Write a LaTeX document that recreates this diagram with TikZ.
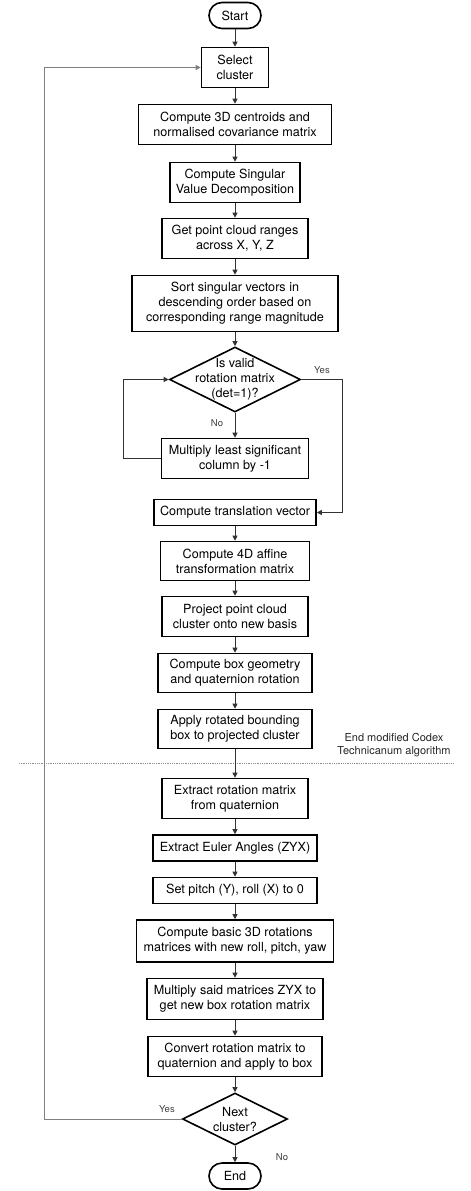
\documentclass[tikz,border=0pt]{standalone}
\usepackage{fontspec}
\setmainfont{TeX Gyre Heros}
\usetikzlibrary{arrows.meta,shapes.geometric}
\begin{document}
\begin{tikzpicture}[x=1pt,y=-1pt,
  txt/.style={font=\fontsize{12.6}{15}\selectfont, align=center, inner sep=0pt},
  proc/.style={txt, draw=black, line width=1.6pt, fill=white},
  term/.style={proc, rounded corners=13pt},
  dec/.style={draw=black, line width=1.6pt, diamond, inner sep=0pt},
  conn/.style={draw=black!80, line width=0.8pt, -{Triangle[length=5pt,width=5pt]}},
  lab/.style={font=\fontsize{9.5}{11}\selectfont, text=black!75, inner sep=0pt},
]
\useasboundingbox (0,0) rectangle (471,1191);

\node[term, minimum width=52pt, minimum height=26pt] (start) at (235,15.5) {Start};
\node[proc, minimum width=67pt, minimum height=40pt] (select) at (235,67.5) {Select\\cluster};
\node[proc, minimum width=193pt, minimum height=40pt] (cent) at (235,124.5) {Compute 3D centroids and\\normalised covariance matrix};
\node[proc, minimum width=130pt, minimum height=40pt] (svd) at (235,182.5) {Compute Singular\\Value Decomposition};
\node[proc, minimum width=146pt, minimum height=40pt] (rng) at (235,238.5) {Get point cloud ranges\\across X, Y, Z};
\node[proc, minimum width=206pt, minimum height=56pt] (sort) at (235,303.5) {Sort singular vectors in\\descending order based on\\corresponding range magnitude};
\node[dec, minimum width=131pt, minimum height=65pt] (d1) at (235,379.5) {};
\node[txt] (d1t) at (d1.center) {Is valid\\rotation matrix\\(det=1)?};
\node[proc, minimum width=147pt, minimum height=40pt] (mult) at (235,458.5) {Multiply least significant\\column by -1};
\node[proc, minimum width=162pt, minimum height=26pt] (trans) at (235,512.5) {Compute translation vector};
\node[proc, minimum width=149pt, minimum height=39pt] (aff) at (235,561) {Compute 4D affine\\transformation matrix};
\node[proc, minimum width=146pt, minimum height=40pt] (proj) at (235,616.5) {Project point cloud\\cluster onto new basis};
\node[proc, minimum width=154pt, minimum height=39pt] (geom) at (235,673) {Compute box geometry\\and quaternion rotation};
\node[proc, minimum width=154pt, minimum height=39pt] (apply) at (235,729) {Apply rotated bounding\\box to projected cluster};
\node[proc, minimum width=146pt, minimum height=40pt] (xrot) at (235,798.5) {Extract rotation matrix\\from quaternion};
\node[proc, minimum width=164pt, minimum height=26pt] (euler) at (235,848) {Extract Euler Angles (ZYX)};
\node[proc, minimum width=164pt, minimum height=26pt] (pitch) at (235,890.5) {Set pitch (Y), roll (X) to 0};
\node[proc, minimum width=197pt, minimum height=42pt] (basic) at (235,941) {Compute basic 3D rotations\\matrices with new roll, pitch, yaw};
\node[proc, minimum width=176pt, minimum height=41pt] (mzyx) at (235,999) {Multiply said matrices ZYX to\\get new box rotation matrix};
\node[proc, minimum width=174pt, minimum height=40pt] (conv) at (235,1056.5) {Convert rotation matrix to\\quaternion and apply to box};
\node[dec, minimum width=105pt, minimum height=52pt] (d2) at (235,1119) {};
\node[txt] (d2t) at (d2.center) {Next\\cluster?};
\node[term, minimum width=52pt, minimum height=26pt] (end) at (235,1176) {End};

\node[font=\fontsize{11}{13}\selectfont, align=center, text=black!85, inner sep=0pt] (note) at (394,745.5) {End modified Codex\\Technicanum algorithm};
\coordinate (dl) at (19,763);
\coordinate (dr) at (453,763);
\draw[black!45, line width=0.6pt, dash pattern=on 0.6pt off 1.2pt] (dl) -- (dr);

\draw[conn] (start) -- (select);
\draw[conn] (select) -- (cent);
\draw[conn] (cent) -- (svd);
\draw[conn] (svd) -- (rng);
\draw[conn] (rng) -- (sort);
\draw[conn] (sort) -- (d1);
\draw[conn] (d1) -- (mult);
\draw[conn] (mult.west) -- ++(-37,0) |- (d1.west);
\draw[conn] (d1.east) -- ++(41,0) |- (trans.east);
\draw[conn] (trans) -- (aff);
\draw[conn] (aff) -- (proj);
\draw[conn] (proj) -- (geom);
\draw[conn] (geom) -- (apply);
\draw[conn] (apply) -- (xrot);
\draw[conn] (xrot) -- (euler);
\draw[conn] (euler) -- (pitch);
\draw[conn] (pitch) -- (basic);
\draw[conn] (basic) -- (mzyx);
\draw[conn] (mzyx) -- (conv);
\draw[conn] (conv) -- (d2);
\draw[conn] (d2) -- (end);
\draw[conn, draw=black!50] (d2.west) -- ++(-137.5,0) |- (select.west);

\node[lab] (yes1) at (322,370) {Yes};
\node[lab] (no1) at (217,423) {No};
\node[lab] (yes2) at (167,1109) {Yes};
\node[lab] (no2) at (282,1157) {No};
\end{tikzpicture}
\end{document}
